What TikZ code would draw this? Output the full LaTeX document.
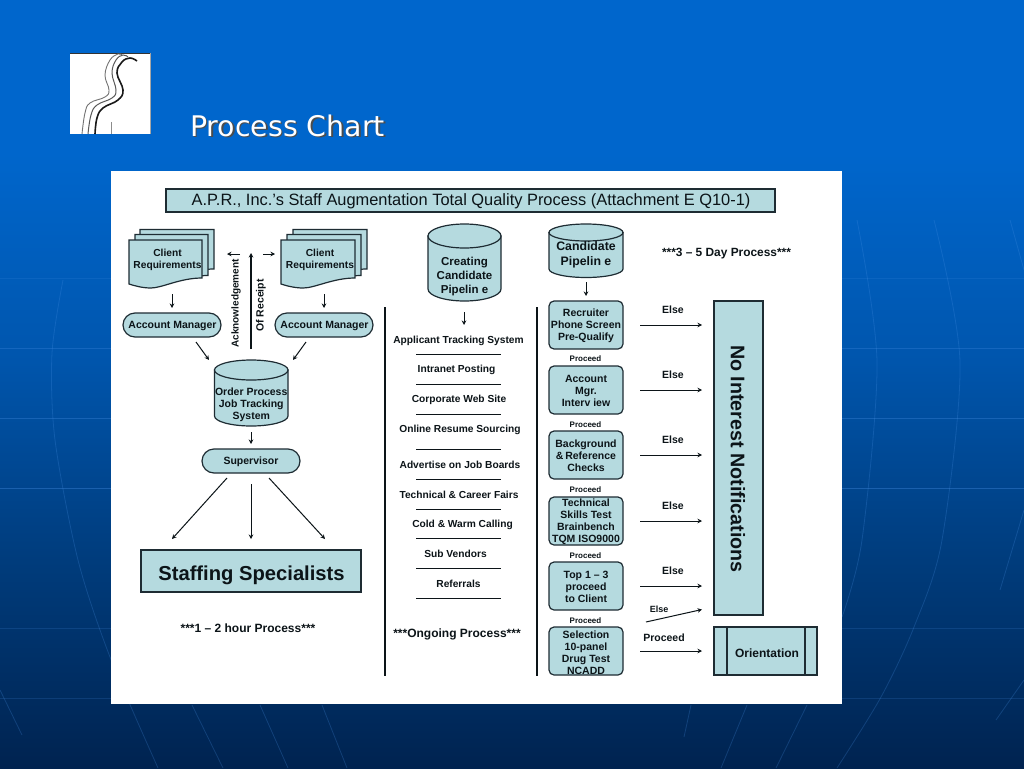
\documentclass[tikz,border=0pt]{standalone}
\usepackage{fontspec}
\setmainfont{Liberation Sans}
\newfontfamily\titlefont{DejaVu Sans}
\usetikzlibrary{arrows.meta}
\definecolor{bgA}{HTML}{0066CC}
\definecolor{bgB}{HTML}{0056AE}
\definecolor{bgC}{HTML}{003C7C}
\definecolor{bgD}{HTML}{002350}
\definecolor{panelfill}{HTML}{B5DADF}
\definecolor{inkc}{HTML}{0C1418}
\definecolor{edgec}{HTML}{1E2C33}
\definecolor{faintline}{HTML}{4A92E6}
\pgfdeclareverticalshading{bgshade}{100bp}{color(0bp)=(bgD); color(25bp)=(bgD); color(38.5bp)=(bgC); color(52bp)=(bgB); color(65bp)=(bgA); color(75bp)=(bgA); color(100bp)=(bgA)}
\tikzset{
  x=1pt,y=-1pt,
  conn/.style={draw=inkc,line width=1pt,-{Stealth[length=4.5pt,width=4.5pt]}},
  rulec/.style={draw=inkc,line width=1pt},
  shapefill/.style={draw=edgec,line width=1.2pt,fill=panelfill},
  lab/.style={font=\fontsize{10.5}{12}\selectfont\bfseries,text=inkc,align=center,inner sep=0pt,yshift=-1pt},
  small/.style={font=\fontsize{8}{9}\selectfont\bfseries,text=inkc,inner sep=0pt,yshift=-0.7pt},
  midlab/.style={font=\fontsize{10.2}{12}\selectfont\bfseries,text=inkc,inner sep=0pt,yshift=-1pt},
  stepbox/.style={shapefill,rounded corners=5pt,minimum width=74pt,minimum height=48pt,inner sep=0pt},
  pill/.style={shapefill,rounded corners=12pt,minimum width=98pt,minimum height=24pt,inner sep=0pt},
  plainbox/.style={shapefill,inner sep=0pt},
  glob/.style={draw=faintline,line width=0.8pt},
  merid/.style={draw=faintline,line width=0.8pt,opacity=0.24},
}
\newcommand{\docsheet}[4]{% x y w h(right side)
  \draw[shapefill] (#1,#2) -- (#1+#3,#2) -- (#1+#3,#2+#4)
    .. controls (#1+#3-22,#2+#4) and (#1+#3-40,#2+#4+10) .. (#1+#3*0.3,#2+#4+10)
    .. controls (#1+14,#2+#4+10) and (#1+6,#2+#4+8) .. (#1,#2+#4+6) -- cycle;}
\newcommand{\cyl}[9]{% name x1 x2 ytop ybot ry ytext font text
  \draw[shapefill] (#2,#4+#6) -- (#2,#5-#6) arc[start angle=180,end angle=0,x radius=(#3-#2)/2,y radius=#6]
     -- (#3,#4+#6) -- cycle;
  \draw[shapefill] ({(#2+#3)/2},#4+#6) ellipse[x radius=(#3-#2)/2,y radius=#6];
  \node[lab,font=#8\bfseries] (#1) at ({(#2+#3)/2},#7) {#9};}
\begin{document}
\begin{tikzpicture}
\useasboundingbox (0,0) rectangle (1024,768);
\shade[shading=bgshade] (0,0) rectangle (1024,768);
% faint globe lines
\foreach \y/\o in {278/0.16,348/0.28,418/0.32,488/0.36,628/0.18,698/0.18}{
  \draw[glob,opacity=\o] (0,\y) -- (1024,\y);}
\draw[merid] plot[smooth] coordinates {(63,280) (52,353) (55,440) (78,560) (110,657) (158,768)};
\draw[merid] (0,690) -- (22,735);
\draw[merid] (192,705) -- (223,768);
\draw[merid] (260,705) -- (288,768);
\draw[merid] (322,705) -- (347,768);
\draw[merid] (691,705) -- (684,737);
\draw[merid] (747,705) -- (721,768);
\draw[merid] (807,705) -- (776,768);
\draw[merid] plot[smooth] coordinates {(857,220) (877,362) (862,540) (842,617)};
\draw[merid] plot[smooth] coordinates {(934,220) (960,362) (942,540) (914,627) (881,697) (837,768)};
\draw[merid] plot[smooth] coordinates {(1010,220) (1024,270)};
\draw[merid] plot[smooth] coordinates {(1024,510) (1015,540) (1000,590)};
\draw[merid] (1024,680) -- (996,720);
% logo
\fill[white] (70,53) rectangle (151,134);
\draw[black!80,line width=0.7pt] (70,53) -- (150,53);
\draw[black!35,line width=0.6pt] (150.5,53) -- (150.5,134);
\draw[black!55,line width=0.9pt] plot[smooth,tension=0.7] coordinates
  {(82,134) (85,113) (90,103) (105,97) (109,90) (105,75) (110,60) (118,54) (122,55)};
\draw[black!65,line width=1pt] plot[smooth,tension=0.7] coordinates
  {(88,134) (91,115) (97,105) (112,98) (116,90) (112,73) (116,60) (123,55) (128,57)};
\draw[black!90,line width=1.6pt] plot[smooth,tension=0.7] coordinates
  {(95,134) (97,118) (103,108) (118,100) (123,90) (117,73) (122,62) (130,58) (137,61)};
\draw[black!45,line width=0.7pt] (111,122) -- (111,134);
\node[font=\titlefont\fontsize{28.4}{30}\selectfont,text=black!70,inner sep=0pt,anchor=west] (pageshadow) at (191.5,127) {Process Chart};
\node[font=\titlefont\fontsize{28.4}{30}\selectfont,text=white,inner sep=0pt,anchor=west] (pagetitle) at (190,126) {Process Chart};
% panel
\fill[white] (111,171) rectangle (842,704);
% title
\node[plainbox,minimum width=609pt,minimum height=23pt] (head) at (470.5,200.5) {};
\node[lab,font=\fontsize{16.4}{18}\selectfont] (headlab) at (471,200.5) {A.P.R., Inc.’s Staff Augmentation Total Quality Process (Attachment E Q10-1)};
% docs left
\docsheet{140}{229.5}{74}{39.5}
\docsheet{135}{234.5}{73}{41}
\docsheet{129}{240}{73}{38}
\node[lab,font=\fontsize{10.2}{12}\selectfont\bfseries] (docA) at (167.5,259) {Client\\Requirements};
% docs right
\docsheet{293}{229.5}{74}{39.5}
\docsheet{287}{234.5}{74}{41}
\docsheet{281}{240}{74}{38}
\node[lab,font=\fontsize{10.2}{12}\selectfont\bfseries] (docB) at (320,259) {Client\\Requirements};
\node[pill] (amA) at (172,325) {}; \node[lab] (amAlab) at (172.5,325) {Account Manager};
\node[pill] (amB) at (324,325) {}; \node[lab] (amBlab) at (324.5,325) {Account Manager};
\cyl{order}{214.5}{288}{360}{426}{10}{404}{\fontsize{10.5}{12}\selectfont}{Order Process\\Job Tracking\\System}
\node[lab,rotate=90,font=\fontsize{10}{12}\selectfont\bfseries] (ack) at (236,302.5) {Acknowledgement};
\node[lab,rotate=90] (rcpt) at (261,304.5) {Of Receipt};
\node[pill] (sup) at (251,461) {}; \node[lab] (suplab) at (251,461) {Supervisor};
\node[plainbox,minimum width=220pt,minimum height=42pt] (staff) at (251,571) {};
\node[lab,font=\fontsize{20.2}{22}\selectfont\bfseries] (stafflab) at (251.5,574.5) {Staffing Specialists};
\node[lab,font=\fontsize{12}{14}\selectfont\bfseries] (t1) at (248,627) {***1 – 2 hour Process***};
% arrows left
\coordinate (a1s) at (172,294); \coordinate (a1e) at (172,308);
\coordinate (a2s) at (324,294); \coordinate (a2e) at (324,308);
\coordinate (a3s) at (240,254); \coordinate (a3e) at (227,254);
\coordinate (a4s) at (263,254); \coordinate (a4e) at (275,254);
\coordinate (a6s) at (196,342); \coordinate (a6e) at (209,360);
\coordinate (a7s) at (306,342); \coordinate (a7e) at (293,360);
\coordinate (a8s) at (251,432); \coordinate (a8e) at (251,444);
\coordinate (a9s) at (227,478); \coordinate (a9e) at (172,539);
\coordinate (a10s) at (251,484); \coordinate (a10e) at (251,539);
\coordinate (a11s) at (269,478); \coordinate (a11e) at (325,539);
\foreach \i in {1,2,3,4,6,7,8,9,10,11}{\draw[conn] (a\i s) -- (a\i e);}
\coordinate (a5s) at (251,349); \coordinate (a5e) at (251,253);
\draw[conn,line width=1.4pt] (a5s) -- (a5e);
% middle
\cyl{creating}{428}{501}{224}{301}{12}{275.5}{\fontsize{11.5}{13.6}\selectfont}{Creating\\Candidate\\Pipelin e}
\coordinate (m1s) at (464,312); \coordinate (m1e) at (464,325);
\draw[conn] (m1s) -- (m1e);
\coordinate (vAt) at (385,307); \coordinate (vAb) at (385,676);
\coordinate (vBt) at (537,307); \coordinate (vBb) at (537,676);
\draw[rulec,line width=1.2pt] (vAt) -- (vAb);
\draw[rulec,line width=1.2pt] (vBt) -- (vBb);
\foreach \y in {354,384,414,449,479,509,538,568,598}{
  \coordinate (hl\y) at (416,\y); \coordinate (hr\y) at (501,\y);
  \draw[rulec] (hl\y) -- (hr\y);}
\node[midlab] (s1) at (458.5,339.5) {Applicant Tracking System};
\node[midlab] (s2) at (456.5,369) {Intranet Posting};
\node[midlab] (s3) at (459,398.5) {Corporate Web Site};
\node[midlab] (s4) at (460,428.5) {Online Resume Sourcing};
\node[midlab] (s5) at (460,464) {Advertise on Job Boards};
\node[midlab] (s6) at (459,494) {Technical \& Career Fairs};
\node[midlab] (s7) at (462.5,523.5) {Cold \& Warm Calling};
\node[midlab] (s8) at (455.5,553) {Sub Vendors};
\node[midlab] (s9) at (458.5,583) {Referrals};
\node[lab,font=\fontsize{12}{14}\selectfont\bfseries] (t2) at (457,633) {***Ongoing Process***};
% right column
\cyl{cand}{549}{623}{224}{277.5}{8.5}{253.5}{\fontsize{12.3}{15}\selectfont}{Candidate\\Pipelin e}
\coordinate (c1s) at (586,282); \coordinate (c1e) at (586,296);
\draw[conn] (c1s) -- (c1e);
\node[lab,font=\fontsize{11.9}{14}\selectfont\bfseries] (t3) at (726.5,252.5) {***3 – 5 Day Process***};
\foreach \n/\y in {1/325,2/390,3/455,4/521,5/586,6/651}{
  \node[stepbox] (b\n) at (586,\y) {};}
\node[lab] (b1t) at (586,325) {Recruiter\\Phone Screen\\Pre-Qualify};
\node[lab] (b2t) at (586,390) {Account\\Mgr.\\Interv iew};
\node[lab] (b3t) at (586,455) {Background\\\&\,Reference\\Checks};
\node[lab] (b4t) at (586,521) {Technical\\Skills Test\\Brainbench\\TQM ISO9000};
\node[lab] (b5t) at (586,586) {Top 1 – 3\\proceed\\to Client};
\node[lab] (b6t) at (586,652) {Selection\\10-panel\\Drug Test\\NCADD};
\foreach \y in {358,424,489,555,620}{
  \node[small] (p\y) at (585.5,\y) {Proceed};}
\foreach \n/\y in {1/325,2/390,3/455,4/521,5/586}{
  \coordinate (es\n) at (640,\y); \coordinate (ee\n) at (702,\y);
  \draw[conn] (es\n) -- (ee\n);
  \node[lab] (el\n) at (673,\y-16) {Else};}
\coordinate (es6) at (646,622); \coordinate (ee6) at (702,609.5);
\draw[conn] (es6) -- (ee6);
\node[small,font=\fontsize{9}{10}\selectfont\bfseries] (el6) at (659,609) {Else};
\coordinate (es7) at (640,651); \coordinate (ee7) at (702,651);
\draw[conn] (es7) -- (ee7);
\node[lab] (el7) at (664,636.5) {Proceed};
\node[plainbox,minimum width=49pt,minimum height=314pt] (noint) at (738.5,458) {};
\node[font=\fontsize{19.7}{22}\selectfont\bfseries,text=inkc,rotate=-90,inner sep=0pt] (nolab) at (738,459) {No Interest Notifications};
\node[plainbox,minimum width=103pt,minimum height=48pt] (orient) at (765.5,651) {};
\coordinate (oAt) at (727,627); \coordinate (oAb) at (727,675);
\coordinate (oBt) at (805,627); \coordinate (oBb) at (805,675);
\draw[shapefill] (oAt) -- (oAb);
\draw[shapefill] (oBt) -- (oBb);
\node[lab,font=\fontsize{12}{13}\selectfont\bfseries] (orlab) at (767,652.5) {Orientation};
\end{tikzpicture}
\end{document}
